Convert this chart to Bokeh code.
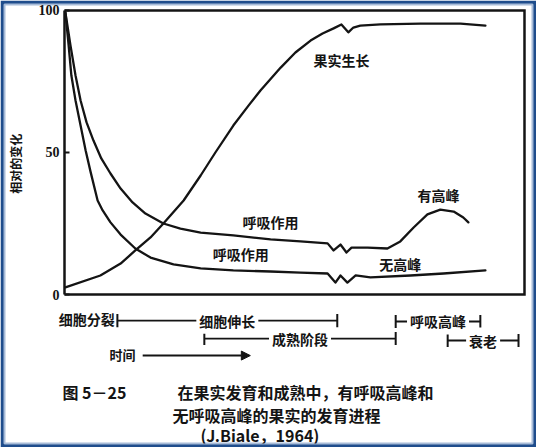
import math
from bokeh.plotting import figure
from bokeh.models import Range1d, LinearAxis, FixedTicker, Arrow, NormalHead
from bokeh.core.properties import value
from bokeh.embed import file_html
from bokeh.resources import INLINE

# ---------------- data (x: time 0-100, y: relative change 0-100) ----------------
growth_x = [0.2, 7.8, 12.2, 15.4, 18.7, 21.5, 25.9, 29.6, 32.8, 36.7, 40.0, 42.6, 47.0,
            50.2, 53.5, 56.1, 58.5, 60.2, 61.7, 62.8, 64.3, 68.7, 77.4, 86.1, 91.5]
growth_y = [2.5, 6.7, 10.9, 15.5, 20.1, 25.0, 33.1, 41.9, 50.0, 59.5, 66.5, 71.8, 79.9,
            85.2, 89.4, 91.9, 93.7, 95.1, 92.3, 94.0, 94.7, 95.1, 95.4, 95.4, 94.7]

climacteric_x = [0.2, 1.3, 2.4, 3.5, 4.8, 6.3, 8.0, 10.0, 12.2, 14.8, 17.6, 21.5, 25.2,
                 29.6, 36.7, 44.8, 51.3, 57.2, 58.5, 60.0, 61.3, 62.4, 65.9, 70.2, 73.0,
                 75.9, 78.9, 81.7, 84.6, 86.7, 87.8]
climacteric_y = [99.3, 87.7, 77.1, 68.3, 60.6, 54.2, 47.9, 42.6, 37.3, 32.4, 28.5, 25.0, 23.2,
                 21.8, 20.8, 19.4, 18.7, 18.0, 15.5, 17.6, 14.8, 16.5, 16.5, 16.2, 18.7,
                 23.6, 28.2, 29.9, 29.2, 27.1, 25.4]

nonclimacteric_x = [0.2, 0.9, 1.5, 2.4, 3.5, 4.6, 5.7, 7.2, 8.3, 10.0, 12.2, 15.4, 18.7,
                    23.7, 29.6, 36.7, 44.8, 51.3, 57.2, 58.9, 60.0, 61.5, 63.3, 66.5, 75.2,
                    82.4, 91.5]
nonclimacteric_y = [99.3, 87.7, 77.1, 68.3, 59.5, 50.7, 43.0, 33.1, 29.6, 25.4, 21.1, 16.2, 13.0,
                    10.6, 9.2, 8.5, 8.1, 7.7, 7.4, 4.2, 6.7, 4.2, 6.7, 6.0, 6.7,
                    7.4, 8.5]

y_ticks = [0, 50, 100]
y_label = "相对的变化"
y_label_pos = (-10.6, 46.0)
x_extent = [0, 100]
y_extent = [0, 100]

curve_labels = ["果实生长", "有高峰", "呼吸作用", "呼吸作用", "无高峰"]
curve_label_x = [60.2, 81.3, 44.8, 38.3, 73.0]
curve_label_y = [82.7, 34.9, 25.7, 14.1, 10.9]

first_stage = "细胞分裂"
first_stage_x = 10.9
first_stage_y = -8.8

stage_names = ["细胞伸长", "成熟阶段", "呼吸高峰", "衰老"]
stage_start = [11.5, 30.4, 72.0, 83.3]
stage_end = [59.3, 72.0, 90.4, 98.7]
stage_row = [-9.2, -15.5, -9.5, -16.2]

time_label = "时间"
time_label_pos = (12.6, -21.1)
time_arrow_x = [17.0, 40.4]
time_arrow_y = -21.5

caption_texts = ["图 5－25", "在果实发育和成熟中，有呼吸高峰和", "无呼吸高峰的果实的发育进程", "(J.Biale，1964)"]
caption_x = [6.5, 52.4, 46.1, 42.5]
caption_y = [-34.3, -34.3, -42.3, -49.4]

# ---------------- figure ----------------
INK = "#141414"
CJK = "Noto Sans CJK SC"

p = figure(width=536, height=447, output_backend="svg", toolbar_location=None,
           x_range=Range1d(-13.04, 101.74), y_range=Range1d(-52.46, 102.11),
           x_axis_location=None, y_axis_location=None,
           min_border=4, background_fill_color="white", border_fill_color="#1f4d8c")
p.grid.visible = False
p.outline_line_color = "#a8bcd8"
p.outline_line_width = 2

# y axis (drawn at x = 0 inside the frame)
yax = LinearAxis(fixed_location=0, bounds=(0, 100), ticker=FixedTicker(ticks=y_ticks),
                 axis_line_width=2.5, axis_line_color=INK,
                 major_tick_in=5, major_tick_out=0, minor_tick_line_color=None,
                 major_tick_line_width=2, major_tick_line_color=INK,
                 major_label_standoff=5,
                 major_label_text_font="Liberation Serif", major_label_text_font_style="bold",
                 major_label_text_font_size="14px", major_label_text_color=INK)
p.add_layout(yax, "left")

# y axis title
p.text([y_label_pos[0]], [y_label_pos[1]], text=[y_label], angle=math.pi / 2,
       text_align="center", text_baseline="middle", text_font=value(CJK),
       text_font_style="bold", text_font_size="12px", text_color=INK)

# remaining sides of the plot box
p.line([x_extent[0], x_extent[1], x_extent[1], x_extent[0]],
       [y_extent[1], y_extent[1], y_extent[0], y_extent[0]],
       line_color=INK, line_width=2.5, line_join="miter")

# curves
for xs, ys in ((growth_x, growth_y), (climacteric_x, climacteric_y), (nonclimacteric_x, nonclimacteric_y)):
    p.line(xs, ys, line_color=INK, line_width=2.3, line_join="round", line_cap="round")

# curve labels
p.text(curve_label_x, curve_label_y, text=curve_labels, text_align="center", text_baseline="middle",
       text_font=value(CJK), text_font_style="bold", text_font_size="14px", text_color=INK)

# stage brackets
p.segment(x0=stage_start, y0=stage_row, x1=stage_end, y1=stage_row, line_color=INK, line_width=1.8)
tick_h = 2.3
p.segment(x0=stage_start, y0=[r - tick_h for r in stage_row], x1=stage_start,
          y1=[r + tick_h for r in stage_row], line_color=INK, line_width=2)
p.segment(x0=stage_end, y0=[r - tick_h for r in stage_row], x1=stage_end,
          y1=[r + tick_h for r in stage_row], line_color=INK, line_width=2)
stage_mid = [(a + b) / 2 for a, b in zip(stage_start, stage_end)]
p.text(stage_mid, stage_row, text=stage_names, text_align="center", text_baseline="middle",
       text_font=value(CJK), text_font_style="bold", text_font_size="14px", text_color=INK,
       background_fill_color="white", padding=3)
p.text([first_stage_x], [first_stage_y], text=[first_stage], text_align="right", text_baseline="middle",
       text_font=value(CJK), text_font_style="bold", text_font_size="14px", text_color=INK)

# time arrow
p.text([time_label_pos[0]], [time_label_pos[1]], text=[time_label], text_align="center",
       text_baseline="middle", text_font=value(CJK), text_font_style="bold",
       text_font_size="13px", text_color=INK)
p.add_layout(Arrow(x_start=time_arrow_x[0], y_start=time_arrow_y, x_end=time_arrow_x[1], y_end=time_arrow_y,
                   line_color=INK, line_width=2,
                   end=NormalHead(size=9, fill_color=INK, line_color=INK)))

# caption
p.text(caption_x, caption_y, text=caption_texts, text_align="center", text_baseline="middle",
       text_font=value(CJK), text_font_style="bold", text_font_size="16px", text_color=INK)

open("out.html", "w").write(file_html(p, INLINE))
